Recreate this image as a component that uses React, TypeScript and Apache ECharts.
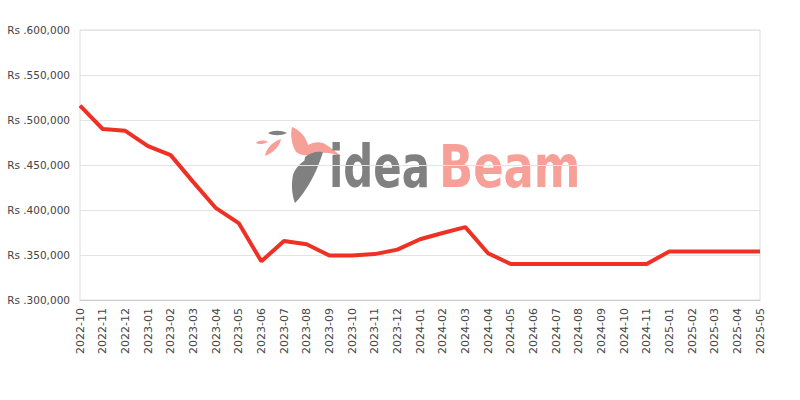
import React, { useEffect, useRef } from "react";
import * as echarts from "echarts";

const categories = [
  "2022-10", "2022-11", "2022-12",
  "2023-01", "2023-02", "2023-03", "2023-04", "2023-05", "2023-06",
  "2023-07", "2023-08", "2023-09", "2023-10", "2023-11", "2023-12",
  "2024-01", "2024-02", "2024-03", "2024-04", "2024-05", "2024-06",
  "2024-07", "2024-08", "2024-09", "2024-10", "2024-11",
  "2025-01", "2025-02", "2025-03", "2025-04", "2025-05",
];

const prices = [
  516000, 490000, 488000,
  471000, 461000, 431000, 402000, 385500, 343000,
  365500, 362000, 349500, 349500, 351000, 356000,
  367500, 374500, 381000, 352000, 340000, 340000,
  340000, 340000, 340000, 340000, 340000,
  354000, 354000, 354000, 354000, 354000,
];

const yMin = 300000;
const yMax = 600000;
const yStep = 50000;

const birdWing =
  "M292,127 C300,130 306,137 308,145 C313,142 320,141 325,144 C330,147 335,151 341,156 C334,154 327,152 320,153 C312,156 303,157 296,152 C292,145 290,136 292,127 Z";
const feather =
  "M323,152 C319,165 313,179 306,189 C302,195 299,199 295,203 C292,195 291,185 293,175 C296,165 306,157 323,152 Z";
const belly =
  "M305,157 C310,153 316,151 322,152 C320,160 316,166 309,168 C305,165 304,161 305,157 Z";
const grayLeaf = "M268,133 C273,130 281,130 287,133 C281,136 273,136 268,133 Z";
const pinkLeaf = "M256,143 C259,140 264,140 268,142 C264,144 259,145 256,143 Z";
const pinkLeaf2 = "M265,156 C266,149 272,142 281,139 C280,146 273,153 265,156 Z";

export default function App() {
  const ref = useRef<HTMLDivElement>(null);
  useEffect(() => {
    if (!ref.current) return;
    const shapes: [string, string][] = [
      ["birdWing", birdWing],
      ["feather", feather],
      ["belly", belly],
      ["grayLeaf", grayLeaf],
      ["pinkLeaf", pinkLeaf],
      ["pinkLeaf2", pinkLeaf2],
    ];
    shapes.forEach(([n, d]) => {
      echarts.graphic.registerShape(n, echarts.graphic.extendPath(d, {}) as any);
    });
    const chart = echarts.init(ref.current, null, { renderer: "svg" });
    const pink = "#f7a098";
    const gray = "#808080";
    const logoFont = "bold 59px 'DejaVu Sans'";
    chart.setOption({
      animation: false,
      backgroundColor: "#ffffff",
      grid: {
        left: 80,
        right: 40,
        top: 30,
        bottom: 100,
        show: true,
        borderColor: "#dddddd",
        borderWidth: 1,
      },
      xAxis: {
        type: "category",
        data: categories,
        boundaryGap: false,
        axisLine: { show: true, lineStyle: { color: "#cccccc" } },
        axisTick: { show: false },
        axisLabel: {
          interval: 0,
          rotate: 90,
          color: "#444444",
          fontSize: 11,
          fontFamily: "DejaVu Sans",
          margin: 8,
        },
        splitLine: { show: false },
      },
      yAxis: {
        type: "value",
        min: yMin,
        max: yMax,
        interval: yStep,
        axisLine: { show: false },
        axisTick: { show: false },
        axisLabel: {
          color: "#444444",
          fontSize: 10.5,
          fontFamily: "DejaVu Sans",
          margin: 10,
          formatter: (v: number) => "Rs ." + v.toLocaleString("en-US"),
        },
        splitLine: { show: true, lineStyle: { color: "#e3e3e3" } },
      },
      graphic: [
        {
          type: "group",
          silent: true,
          z: 0,
          children: [
            { type: "pinkLeaf", style: { fill: pink } },
            { type: "pinkLeaf2", style: { fill: pink } },
            { type: "grayLeaf", style: { fill: gray } },
            { type: "birdWing", style: { fill: pink } },
            { type: "feather", style: { fill: gray } },
            { type: "belly", style: { fill: gray } },
            {
              type: "text",
              x: 329,
              y: 196,
              scaleX: 0.71,
              style: {
                text: "idea",
                fill: gray,
                font: logoFont,
                verticalAlign: "bottom",
              },
            },
            {
              type: "text",
              x: 439,
              y: 196,
              scaleX: 0.76,
              style: {
                text: "Beam",
                fill: pink,
                font: logoFont,
                verticalAlign: "bottom",
              },
            },
          ],
        },
      ],
      series: [
        {
          type: "line",
          data: prices,
          showSymbol: false,
          symbol: "none",
          smooth: false,
          lineStyle: { color: "#ee3124", width: 4 },
          z: 5,
        },
      ],
    });
    return () => chart.dispose();
  }, []);
  return (
    <div
      ref={ref}
      style={{ position: "fixed", left: 0, top: 0, width: 800, height: 400 }}
    />
  );
}
